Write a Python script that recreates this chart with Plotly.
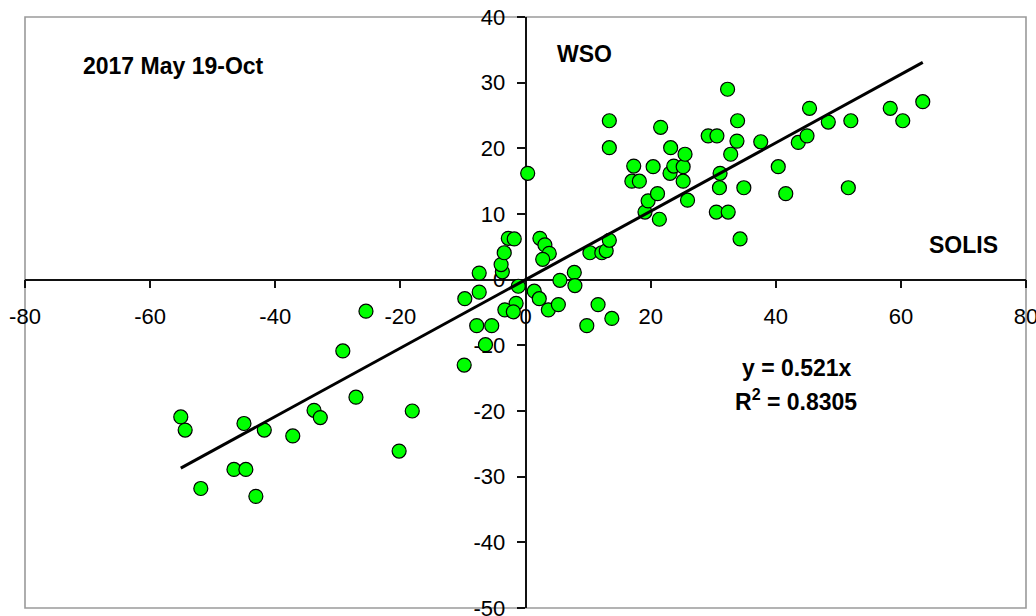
import plotly.graph_objects as go

# SOLIS vs WSO daily values, 2017 May 19 - Oct
solis = [
    -55.1, -54.4, -51.9, -46.6, -44.7, -45.0, -43.1, -41.75, -37.2, -33.8,
    -32.8, -29.2, -27.1, -25.5, -20.2, -18.1,
    -9.8, -6.4, -7.8, -5.4, -9.7, -7.4, -7.4, -3.7, -3.9, -3.4,
    -2.75, -1.8, -1.15, -1.5, -3.3, -1.95, 0.35,
    2.3, 3.1, 3.8, 2.75, 1.4, 2.2, 3.65, 5.25, 5.5, 7.8, 7.9,
    9.8, 11.6, 13.8, 10.3, 12.2, 12.9, 13.4,
    13.4, 13.4, 17.0, 18.2, 17.3, 19.1, 19.6, 20.4, 21.1, 21.4,
    21.6, 23.1, 23.2, 23.7, 25.2, 25.2, 25.5, 25.9, 29.2, 30.6,
    30.5, 31.0, 31.1, 32.3, 32.4, 32.8, 33.8, 33.9, 34.3, 34.9,
    37.6, 40.4, 41.6, 43.6, 45.0, 45.4, 48.4, 51.6, 52.0, 58.3,
    60.3, 63.5,
]
wso = [
    -20.9, -22.9, -31.8, -28.9, -28.9, -21.9, -33.0, -22.9, -23.8, -19.9,
    -21.0, -10.85, -17.9, -4.8, -26.1, -20.0,
    -13.0, -9.9, -7.0, -7.0, -2.9, -1.9, 1.0, 1.2, 2.3, 4.1,
    6.3, 6.2, -1.0, -3.6, -4.6, -4.9, 16.2,
    6.3, 5.3, 4.0, 3.1, -1.75, -2.9, -4.6, -3.8, -0.1, 1.1, -0.9,
    -7.0, -3.8, -5.9, 4.1, 4.1, 4.4, 6.0,
    20.1, 24.2, 15.0, 15.0, 17.3, 10.3, 12.0, 17.2, 13.1, 9.2,
    23.2, 16.2, 20.1, 17.3, 17.2, 15.0, 19.1, 12.1, 21.9, 21.9,
    10.3, 14.0, 16.2, 29.0, 10.3, 19.1, 21.1, 24.2, 6.2, 14.0,
    21.0, 17.2, 13.1, 20.9, 21.9, 26.1, 24.0, 14.0, 24.2, 26.1,
    24.2, 27.1,
]

# Linear fit through the origin
slope = 0.521
r_squared = 0.8305

x_ticks = [-80, -60, -40, -20, 0, 20, 40, 60, 80]
y_ticks = [-50, -40, -30, -20, -10, 0, 10, 20, 30, 40]
x_range = [-80, 80]
y_range = [-50, 40]

fit_x = [min(solis), max(solis)]
fit_y = [slope * v for v in fit_x]

FONT = "Liberation Sans, Arial, sans-serif"

fig = go.Figure()
fig.add_trace(go.Scatter(
    x=solis, y=wso, mode="markers",
    marker=dict(size=14, color="#00ff00", line=dict(color="#000000", width=1.2)),
    hoverinfo="x+y", showlegend=False,
))
fig.add_trace(go.Scatter(
    x=fit_x, y=fit_y, mode="lines",
    line=dict(color="#000000", width=3),
    hoverinfo="skip", showlegend=False,
))

axis_common = dict(
    showgrid=False, zeroline=False, showline=True,
    linecolor="#111111", linewidth=1.6,
    ticks="outside", ticklen=8, tickwidth=1.6, tickcolor="#111111",
    tickfont=dict(family=FONT, size=22, color="#000000"),
    anchor="free", layer="below traces", automargin=False,
    ticklabeloverflow="allow",
)

fig.update_layout(
    width=1036, height=616,
    margin=dict(l=25, r=10, t=17, b=8),
    paper_bgcolor="#ffffff", plot_bgcolor="#ffffff",
    template="none",
    xaxis=dict(range=x_range, tickvals=x_ticks,
               ticktext=[str(v) for v in x_ticks],
               position=(0 - y_range[0]) / (y_range[1] - y_range[0]),
               ticklabelstandoff=9, **axis_common),
    yaxis=dict(range=y_range, tickvals=y_ticks,
               ticktext=[str(v) for v in y_ticks],
               position=(0 - x_range[0]) / (x_range[1] - x_range[0]),
               ticklabelstandoff=7, **axis_common),
    shapes=[dict(type="rect", xref="paper", yref="paper", x0=0, y0=0, x1=1, y1=1,
                 line=dict(color="#9a9a9a", width=1.6), layer="below")],
)

bold = dict(family=FONT, size=23, color="#000000")

def note(text, px, py):
    # place a label by its centre, given in pixels of the 1036x616 page
    fig.add_annotation(text=text, xref="paper", yref="paper",
                       x=(px - 25) / 1001, y=(608 - py) / 591,
                       xanchor="center", yanchor="middle",
                       showarrow=False, font=bold)

note("<b>2017 May 19-Oct</b>", 173, 66)
note("<b>WSO</b>", 584, 54)
note("<b>SOLIS</b>", 963, 245)
note(f"<b>y = {slope}x</b>", 797, 368)
note(f"<b>R<sup>2</sup> = {r_squared}</b>", 796, 400)

fig.write_html("out.html")
